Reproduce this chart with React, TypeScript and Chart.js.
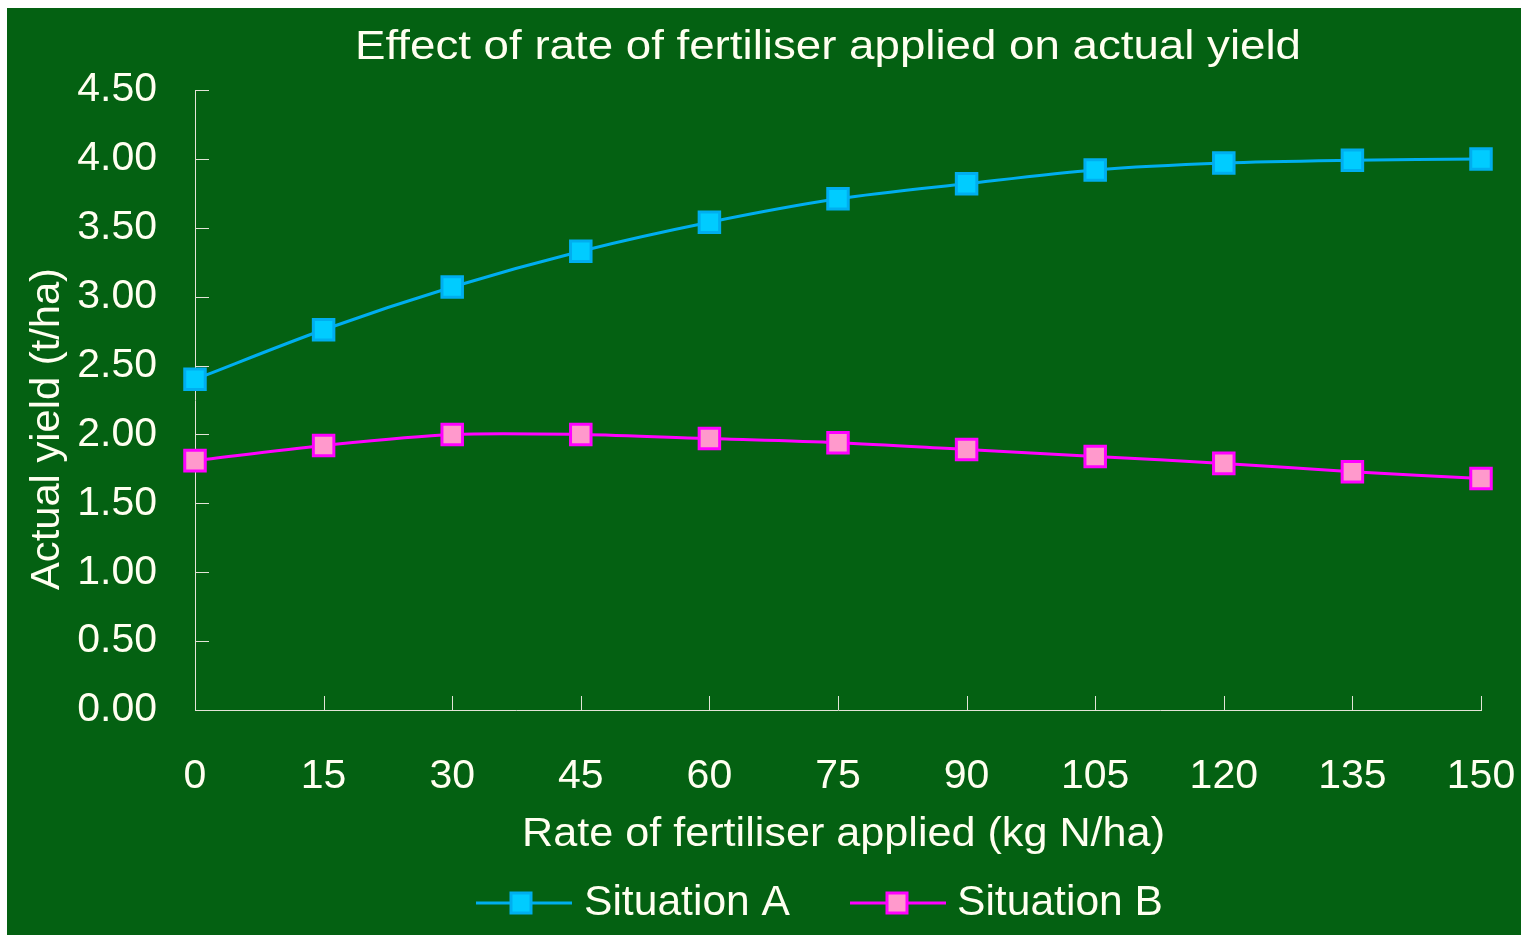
import React, { useEffect, useRef } from "react";
import { Chart, registerables } from "chart.js";

Chart.register(...registerables);

const chartTitle = "Effect of rate of fertiliser applied on actual yield";
const xAxisTitle = "Rate of fertiliser applied (kg N/ha)";
const yAxisTitle = "Actual yield (t/ha)";
const rates = ["0", "15", "30", "45", "60", "75", "90", "105", "120", "135", "150"];
const situationA = [2.4, 2.76, 3.07, 3.33, 3.54, 3.71, 3.82, 3.92, 3.97, 3.99, 4.0];
const situationB = [1.81, 1.92, 2.0, 2.0, 1.97, 1.94, 1.89, 1.84, 1.79, 1.73, 1.68];
const seriesNames = ["Situation A", "Situation B"];

const FONT = '"Liberation Sans", Arial, sans-serif';
const TEXT = "#FFFFF0";
const BG = "#046112";
const AXIS = "#E4E4D8";

function fitText(ctx: CanvasRenderingContext2D, text: string, size: number, width: number) {
  ctx.font = `${size}px ${FONT}`;
  const w = ctx.measureText(text).width;
  return width / w;
}

const decor = {
  id: "decor",
  beforeDatasetsDraw(chart: any) {
    const { ctx, chartArea } = chart;
    const xs = chart.scales.x;
    const ys = chart.scales.y;
    ctx.save();
    ctx.strokeStyle = AXIS;
    ctx.lineWidth = 1;
    ctx.beginPath();
    ys.ticks.forEach((t: any) => {
      const py = Math.round(ys.getPixelForValue(t.value)) + 0.5;
      ctx.moveTo(chartArea.left, py);
      ctx.lineTo(chartArea.left + 14, py);
    });
    rates.forEach((_, i) => {
      const px = Math.round(xs.getPixelForValue(i)) + 0.5;
      ctx.moveTo(px, chartArea.bottom);
      ctx.lineTo(px, chartArea.bottom - 14);
    });
    ctx.stroke();
    ctx.restore();
  },
  afterDraw(chart: any) {
    const { ctx } = chart;
    ctx.save();
    ctx.fillStyle = TEXT;
    ctx.textBaseline = "alphabetic";
    ctx.textAlign = "center";

    // chart title
    let s = fitText(ctx, chartTitle, 40, 946);
    ctx.save();
    ctx.translate(821, 51);
    ctx.scale(s, 1);
    ctx.fillText(chartTitle, 0, 0);
    ctx.restore();

    // x axis title
    s = fitText(ctx, xAxisTitle, 40, 643);
    ctx.save();
    ctx.translate(836.5, 838);
    ctx.scale(s, 1);
    ctx.fillText(xAxisTitle, 0, 0);
    ctx.restore();

    // y axis title
    s = fitText(ctx, yAxisTitle, 41, 322);
    ctx.save();
    ctx.translate(52, 421);
    ctx.rotate(-Math.PI / 2);
    ctx.scale(s, 1);
    ctx.fillText(yAxisTitle, 0, 0);
    ctx.restore();

    // legend
    const items = [
      { x1: 469, sq: 514, tx: 577, ds: chart.data.datasets[0] },
      { x1: 843, sq: 890, tx: 950, ds: chart.data.datasets[1] },
    ];
    const ly = 895;
    items.forEach((it) => {
      ctx.strokeStyle = it.ds.borderColor;
      ctx.lineWidth = 3;
      ctx.beginPath();
      ctx.moveTo(it.x1, ly);
      ctx.lineTo(it.x1 + 96, ly);
      ctx.stroke();
      ctx.fillStyle = it.ds.pointBackgroundColor;
      ctx.fillRect(it.sq - 10, ly - 10, 20, 20);
      ctx.strokeStyle = it.ds.pointBorderColor;
      ctx.strokeRect(it.sq - 10, ly - 10, 20, 20);
      ctx.fillStyle = TEXT;
      ctx.textAlign = "left";
      const sc = fitText(ctx, it.ds.label, 42, 206);
      ctx.save();
      ctx.translate(it.tx, ly + 12);
      ctx.scale(sc, 1);
      ctx.fillText(it.ds.label, 0, 0);
      ctx.restore();
    });
    ctx.restore();
  },
};

export default function App() {
  const ref = useRef<HTMLCanvasElement | null>(null);
  useEffect(() => {
    if (!ref.current) return;
    const chart = new Chart(ref.current, {
      type: "line",
      data: {
        labels: rates,
        datasets: [
          {
            label: seriesNames[0],
            data: situationA,
            borderColor: "#00AEEF",
            borderWidth: 3,
            pointStyle: "rect",
            pointRadius: 14.5,
            pointHoverRadius: 14.5,
            pointBorderWidth: 3,
            pointBackgroundColor: "#00CCFF",
            pointBorderColor: "#00AEEF",
            tension: 0.3,
          },
          {
            label: seriesNames[1],
            data: situationB,
            borderColor: "#FF00FF",
            borderWidth: 3,
            pointStyle: "rect",
            pointRadius: 14.5,
            pointHoverRadius: 14.5,
            pointBorderWidth: 3,
            pointBackgroundColor: "#FF99CC",
            pointBorderColor: "#FF00FF",
            tension: 0.3,
          },
        ],
      },
      options: {
        responsive: false,
        animation: false,
        layout: { padding: { top: 82, right: 40, left: 0, bottom: 0 } },
        plugins: { legend: { display: false }, title: { display: false }, tooltip: { enabled: false } },
        scales: {
          x: {
            type: "category",
            offset: false,
            grid: { display: true, drawOnChartArea: false, drawTicks: false },
            border: { display: true, color: AXIS, width: 1 },
            ticks: { color: TEXT, font: { family: FONT, size: 41 }, padding: 42, maxRotation: 0, autoSkip: false },
            afterFit: (sc: any) => {
              sc.height = 225;
              sc.paddingLeft = 0;
              sc.paddingRight = 0;
            },
          },
          y: {
            min: 0,
            max: 4.5,
            grid: { display: true, drawOnChartArea: false, drawTicks: false },
            border: { display: true, color: AXIS, width: 1 },
            ticks: {
              stepSize: 0.5,
              color: TEXT,
              font: { family: FONT, size: 41 },
              padding: 38,
              callback: (v: any) => Number(v).toFixed(2),
            },
            afterFit: (sc: any) => {
              sc.width = 188;
              sc.paddingTop = 0;
              sc.paddingBottom = 0;
            },
          },
        },
      },
      plugins: [decor],
    });
    return () => chart.destroy();
  }, []);
  return (
    <div style={{ position: "fixed", left: 7, top: 8, right: 0, bottom: 0, background: BG }}>
      <canvas ref={ref} width={1514} height={927} style={{ display: "block" }} />
    </div>
  );
}
